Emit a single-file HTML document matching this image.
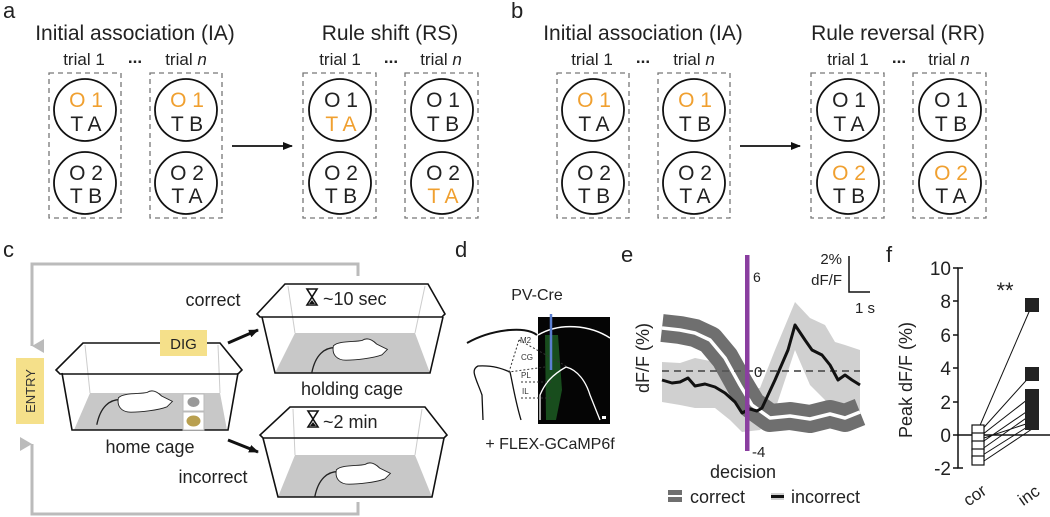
<!DOCTYPE html>
<html><head><meta charset="utf-8"><style>
html,body{margin:0;padding:0;background:#fff;}
svg{display:block;font-family:"Liberation Sans","DejaVu Sans",sans-serif;}
</style></head><body>
<svg width="1050" height="517" viewBox="0 0 1050 517" xmlns="http://www.w3.org/2000/svg">
<defs>
<marker id="ah" markerWidth="10" markerHeight="10" refX="9" refY="5" orient="auto" markerUnits="userSpaceOnUse"><path d="M0,1 L10,5 L0,9 Z" fill="#111"/></marker>
<marker id="ahg" markerWidth="14" markerHeight="14" refX="7" refY="12" orient="auto-start-reverse" markerUnits="userSpaceOnUse"><path d="M0,0 L7,12 L14,0 Z" fill="#bbb"/></marker>
<g id="mouse">
<path d="M-48,22 C-44,2 -34,-6 -22,-6" fill="none" stroke="#222" stroke-width="1.5"/>
<path d="M-24,-8 C-18,-14 0,-12 8,-14 C14,-18 20,-14 24,-10 L36,-4 L30,2 C20,6 0,8 -10,8 C-20,8 -26,2 -24,-8 Z" fill="#fff" stroke="#222" stroke-width="1"/>
</g>
</defs>

<!-- Panel a -->
<g font-size="22" fill="#222">
<text x="3" y="18" font-size="22">a</text>
<text x="135" y="40" text-anchor="middle" font-size="21">Initial association (IA)</text>
<text x="390" y="40" text-anchor="middle" font-size="21">Rule shift (RS)</text>
<text x="511" y="18" font-size="22">b</text>
<text x="643" y="40" text-anchor="middle" font-size="21">Initial association (IA)</text>
<text x="898" y="40" text-anchor="middle" font-size="21">Rule reversal (RR)</text>
</g>
<g id="pa" font-size="17" fill="#222">
<g text-anchor="middle">
<text x="84" y="65">trial 1</text><text x="186" y="65">trial <tspan font-style="italic">n</tspan></text>
<text x="340" y="65">trial 1</text><text x="441" y="65">trial <tspan font-style="italic">n</tspan></text>
<text x="135" y="63" font-weight="bold">...</text><text x="391" y="63" font-weight="bold">...</text>
</g>
<g fill="none" stroke="#777" stroke-width="1.3" stroke-dasharray="5,4">
<rect x="49" y="73" width="72" height="145"/><rect x="150" y="73" width="72" height="145"/>
<rect x="303" y="73" width="73" height="145"/><rect x="405" y="73" width="73" height="145"/>
</g>
<g fill="none" stroke="#111" stroke-width="1.8">
<circle cx="85" cy="110" r="31"/><circle cx="85" cy="183" r="31"/>
<circle cx="186" cy="110" r="31"/><circle cx="186" cy="183" r="31"/>
<circle cx="340" cy="110" r="31"/><circle cx="340" cy="183" r="31"/>
<circle cx="442" cy="110" r="31"/><circle cx="442" cy="183" r="31"/>
</g>
<line x1="232" y1="146" x2="292" y2="146" stroke="#111" stroke-width="1.8" marker-end="url(#ah)"/>
</g>
<g font-size="21" fill="#222" text-anchor="middle">
<text x="86" y="107" fill="#f0a030">O 1</text><text x="86" y="131">T A</text>
<text x="86" y="180">O 2</text><text x="86" y="203">T B</text>
<text x="187" y="107" fill="#f0a030">O 1</text><text x="187" y="131">T B</text>
<text x="187" y="180">O 2</text><text x="187" y="203">T A</text>
<text x="341" y="107">O 1</text><text x="341" y="131" fill="#f0a030">T A</text>
<text x="341" y="180">O 2</text><text x="341" y="203">T B</text>
<text x="443" y="107">O 1</text><text x="443" y="131">T B</text>
<text x="443" y="180">O 2</text><text x="443" y="203" fill="#f0a030">T A</text>
</g>
<!-- Panel b -->
<g transform="translate(508,0)">
<g font-size="17" fill="#222" text-anchor="middle">
<text x="84" y="65">trial 1</text><text x="186" y="65">trial <tspan font-style="italic">n</tspan></text>
<text x="340" y="65">trial 1</text><text x="441" y="65">trial <tspan font-style="italic">n</tspan></text>
<text x="135" y="63" font-weight="bold">...</text><text x="391" y="63" font-weight="bold">...</text>
</g>
<g fill="none" stroke="#777" stroke-width="1.3" stroke-dasharray="5,4">
<rect x="49" y="73" width="72" height="145"/><rect x="150" y="73" width="72" height="145"/>
<rect x="303" y="73" width="73" height="145"/><rect x="405" y="73" width="73" height="145"/>
</g>
<g fill="none" stroke="#111" stroke-width="1.8">
<circle cx="85" cy="110" r="31"/><circle cx="85" cy="183" r="31"/>
<circle cx="186" cy="110" r="31"/><circle cx="186" cy="183" r="31"/>
<circle cx="340" cy="110" r="31"/><circle cx="340" cy="183" r="31"/>
<circle cx="442" cy="110" r="31"/><circle cx="442" cy="183" r="31"/>
</g>
<line x1="232" y1="146" x2="292" y2="146" stroke="#111" stroke-width="1.8" marker-end="url(#ah)"/>
<g font-size="21" fill="#222" text-anchor="middle">
<text x="86" y="107" fill="#f0a030">O 1</text><text x="86" y="131">T A</text>
<text x="86" y="180">O 2</text><text x="86" y="203">T B</text>
<text x="187" y="107" fill="#f0a030">O 1</text><text x="187" y="131">T B</text>
<text x="187" y="180">O 2</text><text x="187" y="203">T A</text>
<text x="341" y="107">O 1</text><text x="341" y="131">T A</text>
<text x="341" y="180" fill="#f0a030">O 2</text><text x="341" y="203">T B</text>
<text x="443" y="107">O 1</text><text x="443" y="131">T B</text>
<text x="443" y="180" fill="#f0a030">O 2</text><text x="443" y="203">T A</text>
</g>
</g>

<!-- Panel c -->
<text x="3" y="257" font-size="22" fill="#222">c</text>
<path d="M358,276 L358,264 L32,264 L32,346" fill="none" stroke="#bbb" stroke-width="3" marker-end="url(#ahg)"/>
<path d="M358,502 L358,514 L32,514 L32,444" fill="none" stroke="#bbb" stroke-width="3" marker-end="url(#ahg)"/>
<rect x="16" y="358" width="28" height="66" fill="#f5e08a"/>
<text transform="translate(35,391) rotate(-90)" text-anchor="middle" font-size="13" fill="#333">ENTRY</text>
<!-- home cage -->
<polygon points="90,393 220,393 227,430 74,430" fill="#c8c8c8"/>
<line x1="85" y1="345" x2="90" y2="393" stroke="#ccc"/><line x1="218" y1="345" x2="220" y2="393" stroke="#ccc"/>
<path d="M62,373 L72,430 L228,430 L238,373" fill="none" stroke="#111" stroke-width="1.6"/>
<path d="M160,343 L83,343 L56,370 L60,374 L238,374 L242,370 L220,343 L207,343" fill="none" stroke="#111" stroke-width="1.6"/>
<rect x="160" y="330" width="47" height="26" fill="#f5e08a"/>
<text x="183.5" y="349" text-anchor="middle" font-size="15" fill="#222">DIG</text>
<rect x="183" y="394" width="21" height="17" fill="#fff" stroke="#bbb"/><rect x="183" y="412" width="21" height="18" fill="#fff" stroke="#bbb"/>
<ellipse cx="193.5" cy="402" rx="6" ry="5" fill="#999"/><ellipse cx="193.5" cy="421" rx="7" ry="5.5" fill="#b9a050"/>
<use href="#mouse" transform="translate(140,405) scale(0.9)"/>
<text x="150" y="453" text-anchor="middle" font-size="18" fill="#222">home cage</text>
<line x1="228" y1="343" x2="258" y2="330" stroke="#111" stroke-width="3" marker-end="url(#ah)"/>
<line x1="228" y1="440" x2="258" y2="452" stroke="#111" stroke-width="3" marker-end="url(#ah)"/>
<text x="213" y="306" text-anchor="middle" font-size="18" fill="#222">correct</text>
<text x="213" y="483" text-anchor="middle" font-size="18" fill="#222">incorrect</text>
<!-- holding cage -->
<polygon points="295,333 415,333 430,373 275,373" fill="#c8c8c8"/>
<line x1="288" y1="286" x2="295" y2="333" stroke="#ccc"/><line x1="425" y1="286" x2="415" y2="333" stroke="#ccc"/>
<path d="M262,317 L275,373 L430,373 L443,317" fill="none" stroke="#111" stroke-width="1.6"/>
<path d="M285,284 L428,284 L445,314 L442,317 L260,317 L257,314 Z" fill="none" stroke="#111" stroke-width="1.6"/>
<use href="#mouse" transform="translate(355,353) scale(0.9)"/>
<text x="352" y="395" text-anchor="middle" font-size="18" fill="#222">holding cage</text>
<polygon points="295,455 415,455 432,497 278,497" fill="#c8c8c8"/>
<line x1="293" y1="409" x2="295" y2="455" stroke="#ccc"/><line x1="422" y1="409" x2="415" y2="455" stroke="#ccc"/>
<path d="M263,438 L278,497 L432,497 L444,438" fill="none" stroke="#111" stroke-width="1.6"/>
<path d="M290,407 L425,407 L447,435 L444,438 L263,438 L260,435 Z" fill="none" stroke="#111" stroke-width="1.6"/>
<use href="#mouse" transform="translate(358,477) scale(0.9)"/>
<g fill="none" stroke="#111" stroke-width="1.6">
<path d="M307,289 L317,289 L312,297 L317,305 L307,305 L312,297 Z"/>
<path d="M308,411 L318,411 L313,419 L318,427 L308,427 L313,419 Z"/>
</g>
<path d="M309,304 L312,300 L315,304 Z" fill="#111"/><path d="M310,426 L313,422 L316,426 Z" fill="#111"/>
<text x="323" y="305" font-size="18" fill="#222">~10 sec</text>
<text x="323" y="428" font-size="18" fill="#222">~2 min</text>

<!-- Panel d -->
<text x="455" y="257" font-size="22" fill="#222">d</text>
<text x="537" y="300" text-anchor="middle" font-size="16" fill="#222">PV-Cre</text>
<rect x="538" y="317" width="72" height="107" fill="#050505"/>
<path d="M545,335 L558,335 L562,390 L556,420 L546,420 Z" fill="#1c5a22" opacity="0.85"/>
<path d="M467,343 C490,330 525,325 537,335" fill="none" stroke="#111" stroke-width="2"/>
<path d="M538,335 C560,322 590,325 610,338" fill="none" stroke="#fff" stroke-width="1.5"/>
<path d="M483,420 L482,395 C476,378 470,370 478,366 C495,365 505,370 510,372 C512,380 515,400 521,420" fill="none" stroke="#111" stroke-width="1.3"/>
<path d="M540,420 L540,395 C545,383 552,375 566,367 C578,370 586,382 590,395 L600,420" fill="none" stroke="#fff" stroke-width="1.3"/>
<g fill="none" stroke="#333" stroke-width="1" stroke-dasharray="2,2">
<path d="M519,340 L509,372 L545,367"/><path d="M519,340 L566,366"/>
<path d="M521,382 L552,382"/><path d="M521,398 L552,398"/>
</g>
<g font-size="8" fill="#333"><text x="520" y="343">M2</text><text x="521" y="360">CG</text><text x="521" y="378">PL</text><text x="522" y="394">IL</text></g>
<line x1="551" y1="314" x2="551" y2="370" stroke="#5b7fd0" stroke-width="2.5"/>
<rect x="602" y="416" width="4" height="3" fill="#fff"/>
<text x="550" y="449" text-anchor="middle" font-size="16" fill="#222">+ FLEX-GCaMP6f</text>

<!-- Panel e -->
<text x="621" y="262" font-size="22" fill="#222">e</text>
<text transform="translate(649,358) rotate(-90)" text-anchor="middle" font-size="18" fill="#222">dF/F (%)</text>
<path d="M662,362 L680,363 L695,358 L715,362 L730,372 L742,390 L760,388 L775,350 L795,302 L810,318 L825,325 L835,342 L845,345 L860,350 L860,420 L845,410 L835,418 L825,400 L810,385 L795,350 L775,410 L760,430 L742,432 L730,420 L715,408 L695,408 L680,405 L662,402 Z" fill="#d0d0d0"/>
<path d="M662,328 L680,330 L695,333 L710,340 L725,358 L740,385 L752,405 L770,418 L790,416 L810,419 L830,414 L845,418 L860,412" fill="none" stroke="#6f6f6f" stroke-width="28" stroke-linejoin="round"/>
<path d="M662,328 L680,330 L695,333 L710,340 L725,358 L740,385 L752,405 L770,418 L790,416 L810,419 L830,414 L845,418 L860,412" fill="none" stroke="#fff" stroke-width="3.5" stroke-linejoin="round"/>
<line x1="662" y1="371" x2="860" y2="371" stroke="#555" stroke-width="1.8" stroke-dasharray="7,5"/>
<path d="M662,380 L672,383 L680,382 L688,378 L695,386 L705,384 L715,387 L725,393 L735,402 L742,413 L750,409 L757,411 L762,408 L775,380 L788,350 L795,325 L805,340 L812,350 L822,355 L830,365 L838,380 L845,375 L852,380 L860,385" fill="none" stroke="#111" stroke-width="3" stroke-linejoin="round"/>
<rect x="745" y="255" width="4.5" height="196" fill="#8a3ea0"/>
<text x="753" y="282" font-size="14" fill="#222">6</text>
<text x="754" y="377" font-size="15" fill="#222">0</text>
<text x="752" y="457" font-size="15" fill="#222">-4</text>
<text x="743" y="478" text-anchor="middle" font-size="18" fill="#222">decision</text>
<rect x="668" y="490" width="14" height="5" fill="#6f6f6f"/><rect x="668" y="497" width="14" height="5" fill="#6f6f6f"/>
<text x="690" y="503" font-size="18" fill="#222">correct</text>
<rect x="771" y="493" width="13" height="7" fill="#d0d0d0"/><rect x="771" y="495" width="13" height="3" fill="#111"/>
<text x="791" y="503" font-size="18" fill="#222">incorrect</text>
<path d="M849,256 L849,292 L870,292" fill="none" stroke="#111" stroke-width="1.5"/>
<text x="842" y="264" text-anchor="end" font-size="15" fill="#222">2%</text>
<text x="842" y="285" text-anchor="end" font-size="15" fill="#222">dF/F</text>
<text x="855" y="313" font-size="15" fill="#222">1 s</text>

<!-- Panel f -->
<text x="886" y="262" font-size="22" fill="#222">f</text>
<text transform="translate(912,380) rotate(-90)" text-anchor="middle" font-size="18" fill="#222">Peak dF/F (%)</text>
<path d="M963,268 L958,268 L958,468 L963,468" fill="none" stroke="#111" stroke-width="1.5"/>
<g stroke="#111" stroke-width="1.5"><line x1="953" y1="268" x2="958" y2="268"/><line x1="953" y1="301" x2="958" y2="301"/><line x1="953" y1="335" x2="958" y2="335"/><line x1="953" y1="368" x2="958" y2="368"/><line x1="953" y1="402" x2="958" y2="402"/><line x1="953" y1="468" x2="958" y2="468"/></g>
<line x1="953" y1="435" x2="1050" y2="435" stroke="#111" stroke-width="1.5"/>
<g font-size="19" fill="#222" text-anchor="end">
<text x="951" y="275">10</text><text x="951" y="308">8</text><text x="951" y="342">6</text><text x="951" y="375">4</text><text x="951" y="409">2</text><text x="951" y="442">0</text><text x="951" y="475">-2</text>
</g>
<text x="1005" y="298" text-anchor="middle" font-size="22" fill="#222">**</text>
<g stroke="#111" stroke-width="1">
<line x1="978" y1="430" x2="1032" y2="305"/><line x1="978" y1="434" x2="1032" y2="374"/>
<line x1="978" y1="438" x2="1032" y2="396"/><line x1="978" y1="445" x2="1032" y2="408"/>
<line x1="978" y1="452" x2="1032" y2="414"/><line x1="978" y1="458" x2="1032" y2="424"/>
<line x1="978" y1="465" x2="1032" y2="429"/><line x1="978" y1="440" x2="1032" y2="422"/>
</g>
<g fill="#fff" stroke="#111" stroke-width="1.2">
<rect x="972" y="425" width="12" height="9"/><rect x="972" y="433" width="12" height="9"/><rect x="972" y="441" width="12" height="9"/><rect x="972" y="449" width="12" height="9"/><rect x="972" y="456" width="12" height="9"/>
</g>
<g fill="#222">
<rect x="1025" y="298" width="14" height="14"/><rect x="1025" y="367" width="14" height="14"/><rect x="1025" y="389" width="14" height="14"/><rect x="1025" y="403" width="14" height="14"/><rect x="1025" y="416" width="14" height="14"/>
</g>
<text transform="translate(978,500) rotate(-35)" text-anchor="middle" font-size="17" fill="#222">cor</text>
<text transform="translate(1032,500) rotate(-35)" text-anchor="middle" font-size="17" fill="#222">inc</text>
</svg>
</body></html>
